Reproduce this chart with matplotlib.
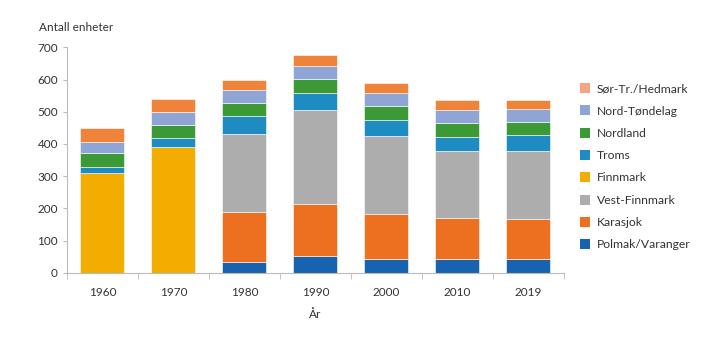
import matplotlib

matplotlib.use("Agg")

import matplotlib.pyplot as plt
import numpy as np
from matplotlib.patches import Patch

plt.rcParams["font.family"] = ["Lato", "DejaVu Sans"]

YEARS = ["1960", "1970", "1980", "1990", "2000", "2010", "2019"]

# stacked from bottom to top
POLMAK = [0, 0, 35, 51, 44, 44, 43]
KARASJOK = [0, 0, 155, 163, 139, 125, 123]
VEST_FINNMARK = [0, 0, 242, 291, 241, 209, 211]
FINNMARK = [310, 390, 0, 0, 0, 0, 0]
TROMS = [18, 30, 55, 52, 52, 45, 51]
NORDLAND = [44, 39, 41, 46, 42, 43, 40]
NORD_TRONDELAG = [35, 41, 40, 40, 40, 40, 40]
SOR_TR_HEDMARK = [42, 40, 31, 34, 32, 30, 30]

SERIES = [
    ("Polmak/Varanger", POLMAK, "#1763b0", "#1763b0"),
    ("Karasjok", KARASJOK, "#ed7020", "#ed7020"),
    ("Vest-Finnmark", VEST_FINNMARK, "#adadad", "#adadad"),
    ("Finnmark", FINNMARK, "#f2ad00", "#f2ad00"),
    ("Troms", TROMS, "#1f8bc3", "#1f8bc3"),
    ("Nordland", NORDLAND, "#3b9a35", "#3b9a35"),
    ("Nord-Tøndelag", NORD_TRONDELAG, "#8ea5d6", "#8ea5d6"),
    ("Sør-Tr./Hedmark", SOR_TR_HEDMARK, "#ef833a", "#f4a582"),
]

fig = plt.figure(figsize=(7.2, 3.41), dpi=100)
ax = fig.add_axes([0.093, 0.2, 0.69, 0.661])

x = np.arange(len(YEARS))
bottom = np.zeros(len(YEARS))
handles = []
for label, vals, color, legend_color in SERIES:
    vals = np.array(vals, dtype=float)
    ax.bar(x, vals, 0.62, bottom=bottom, color=color, edgecolor="white", linewidth=0.4)
    bottom += vals
    handles.append(Patch(facecolor=legend_color, label=label))

ax.set_xlim(-0.5, len(YEARS) - 0.5)
ax.set_ylim(0, 700)
ax.set_yticks(range(0, 701, 100))
ax.set_xticks(x)
ax.set_xticklabels(YEARS)
ax.set_xticks(np.arange(-0.5, len(YEARS)), minor=True)
ax.tick_params(axis="x", which="major", length=0, pad=10, labelsize=8.5, colors="#333333")
ax.tick_params(axis="x", which="minor", length=4, color="#bbbbbb")
ax.tick_params(axis="y", length=3, color="#bbbbbb", labelsize=8.5, colors="#333333")
for side in ["top", "right"]:
    ax.spines[side].set_visible(False)
for side in ["left", "bottom"]:
    ax.spines[side].set_color("#bbbbbb")
    ax.spines[side].set_linewidth(0.8)

ax.set_xlabel("År", fontsize=8.5, color="#333333", labelpad=8)
fig.text(0.054, 0.92, "Antall enheter", fontsize=8.5, color="#333333", va="center")

ax.legend(handles=handles[::-1], loc="upper left", bbox_to_anchor=(1.01, 0.89),
          frameon=False, fontsize=8.7, handlelength=0.9, handleheight=0.9,
          handletextpad=0.5, labelspacing=0.92, labelcolor="#333333")

fig.savefig("out.png", dpi=100)
